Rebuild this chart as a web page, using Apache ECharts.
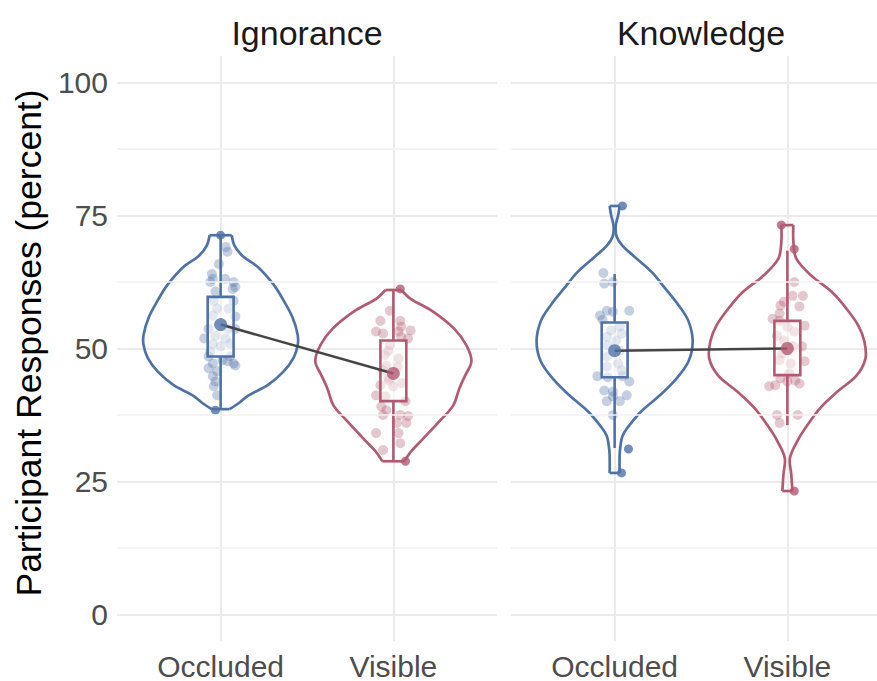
<!DOCTYPE html>
<html>
<head>
<meta charset="utf-8">
<script src="https://cdn.jsdelivr.net/npm/echarts@6/dist/echarts.min.js"></script>
<style>
  html, body { margin: 0; padding: 0; background: #fff; }
  #chart { width: 877px; height: 681px; }
</style>
</head>
<body>
<div id="chart"></div>
<script>
const facets = ['Ignorance', 'Knowledge'];
const conditions = ['Occluded', 'Visible'];
const yTicks = [0, 25, 50, 75, 100];
const yMinorTicks = [12.5, 37.5, 62.5, 87.5];

// condition means, [Occluded, Visible]
const ignoranceMeans = [54.5, 45.3];
const knowledgeMeans = [49.6, 50.0];

// boxes: [lower whisker, q1, q3, upper whisker]
const ignOccBox = [38.6, 48.5, 59.7, 71.2];
const ignVisBox = [28.8, 40.1, 51.5, 61.2];
const knoOccBox = [31.3, 44.6, 54.9, 64.0];
const knoVisBox = [35.6, 45.0, 55.2, 68.4];

// violin outlines: level and half width (x units)
const ignOccLevels = [71.3, 69.3, 67.4, 65.2, 62.0, 59.0, 55.8, 52.6, 50.6, 48.3, 45.7, 43.1, 41.2, 39.7, 38.6];
const ignOccHalfWidths = [0.064, 0.081, 0.127, 0.22, 0.307, 0.365, 0.417, 0.446, 0.446, 0.423, 0.365, 0.272, 0.162, 0.104, 0.052];
const ignVisLevels = [61.0, 59.4, 56.9, 53.7, 50.6, 47.6, 45.0, 42.5, 39.3, 36.3, 33.1, 30.7, 28.8];
const ignVisHalfWidths = [0.046, 0.098, 0.232, 0.353, 0.423, 0.452, 0.417, 0.382, 0.347, 0.266, 0.174, 0.104, 0.064];
const knoOccLevels = [76.8, 75.0, 73.0, 71.0, 69.3, 67.4, 64.4, 61.2, 58.1, 55.1, 51.3, 47.6, 44.4, 41.2, 38.2, 35.0, 33.5, 32.0, 30.0, 26.6];
const knoOccHalfWidths = [0.029, 0.02, 0.006, 0.012, 0.046, 0.11, 0.214, 0.295, 0.371, 0.428, 0.452, 0.428, 0.359, 0.262, 0.155, 0.072, 0.045, 0.035, 0.029, 0.029];
const knoVisLevels = [73.2, 70.0, 66.9, 63.7, 60.7, 57.5, 54.3, 51.3, 48.1, 44.9, 41.9, 38.8, 35.6, 32.6, 29.4, 26.2, 23.2];
const knoVisHalfWidths = [0.035, 0.035, 0.052, 0.139, 0.255, 0.342, 0.411, 0.446, 0.452, 0.40, 0.29, 0.19, 0.116, 0.058, 0.015, 0.023, 0.029];

// participant responses (jittered points)
const ignOccValues = [69.1, 68.2, 65.9, 64.0, 63.1, 62.5, 63.1, 62.5, 61.6, 61.2, 60.7, 59.0, 59.0, 57.5, 57.5, 56.2, 56.0, 53.7, 53.7, 53.7, 51.9, 52.4, 51.9, 50.9, 50.4, 50.9, 49.4, 48.5, 47.8, 47.2, 48.5, 47.6, 47.2, 46.8, 46.3, 45.7, 44.8, 43.8, 42.9, 41.2];
const ignOccJitter = [0.03, 0.04, -0.01, -0.05, -0.045, -0.06, 0.025, 0.075, 0.085, 0.07, -0.03, -0.04, 0.075, -0.02, 0.045, -0.045, 0.085, -0.07, 0.045, 0.085, -0.095, -0.03, 0.03, -0.045, 0.0, 0.055, -0.06, -0.07, 0.01, -0.045, 0.055, 0.04, 0.075, 0.085, -0.07, -0.02, -0.045, -0.03, -0.04, -0.02];
const ignVisValues = [57.1, 55.2, 55.2, 54.1, 53.2, 52.8, 53.2, 53.4, 51.9, 52.2, 49.6, 48.1, 46.8, 45.9, 43.1, 42.9, 44.4, 41.2, 41.0, 40.1, 39.1, 38.4, 37.5, 37.5, 37.3, 36.0, 36.0, 34.1, 34.1, 32.2, 30.9, 50.6, 46.5, 48.8, 43.5, 44.0];
const ignVisJitter = [-0.02, -0.075, 0.04, 0.045, -0.1, -0.06, 0.03, 0.1, 0.085, 0.045, -0.03, 0.03, -0.04, -0.06, -0.075, 0.0, -0.03, -0.1, -0.045, 0.07, -0.07, -0.04, -0.06, 0.04, 0.085, 0.02, 0.075, -0.1, 0.03, 0.04, -0.06, -0.02, 0.025, -0.05, 0.05, -0.025];
const knoOccValues = [64.2, 62.5, 62.2, 56.9, 57.1, 56.2, 55.4, 57.1, 54.1, 53.4, 52.8, 52.2, 51.5, 50.6, 49.6, 48.5, 47.2, 46.6, 45.9, 44.8, 44.6, 44.8, 43.8, 42.1, 41.9, 41.2, 40.1, 40.1, 41.0, 37.5];
const knoOccJitter = [-0.065, -0.01, -0.06, -0.01, -0.045, -0.085, -0.07, 0.085, 0.03, -0.02, 0.04, -0.045, 0.01, -0.04, 0.03, -0.045, 0.02, -0.045, 0.04, -0.1, -0.04, 0.045, 0.085, -0.06, -0.01, 0.07, -0.045, 0.03, -0.01, -0.01];
const knoVisValues = [62.5, 59.9, 59.9, 58.8, 58.1, 57.9, 56.6, 55.6, 55.2, 54.1, 53.2, 54.3, 52.4, 51.5, 50.4, 50.4, 49.1, 47.8, 47.2, 47.6, 45.3, 44.0, 44.4, 42.9, 43.1, 43.8, 43.4, 37.5, 37.5, 36.0];
const knoVisJitter = [0.04, 0.03, 0.09, -0.02, -0.04, 0.07, -0.045, -0.085, -0.045, 0.0, 0.04, 0.1, -0.06, -0.02, 0.03, 0.085, -0.03, -0.045, 0.02, 0.1, 0.01, 0.045, -0.04, -0.105, -0.07, 0.0, 0.07, -0.06, 0.06, -0.045];

// extreme responses drawn in full colour
const ignOccExtremes = [71.3, 38.4];
const ignOccExtremeJitter = [0.0, -0.03];
const ignVisExtremes = [61.2, 28.8];
const ignVisExtremeJitter = [0.04, 0.07];
const knoOccExtremes = [76.8, 31.1, 26.6];
const knoOccExtremeJitter = [0.045, 0.08, 0.04];
const knoVisExtremes = [73.2, 68.7, 23.2];
const knoVisExtremeJitter = [-0.035, 0.04, 0.04];

const BLUE = '#4f72a6';
const RED = '#b25a72';
const FONT = '"Liberation Sans", Arial, Helvetica, sans-serif';

const groups = [
  { facet: 0, cat: 1, color: BLUE, levels: ignOccLevels, hw: ignOccHalfWidths, box: ignOccBox, vals: ignOccValues, jit: ignOccJitter, ext: ignOccExtremes, extJit: ignOccExtremeJitter },
  { facet: 0, cat: 2, color: RED, levels: ignVisLevels, hw: ignVisHalfWidths, box: ignVisBox, vals: ignVisValues, jit: ignVisJitter, ext: ignVisExtremes, extJit: ignVisExtremeJitter },
  { facet: 1, cat: 1, color: BLUE, levels: knoOccLevels, hw: knoOccHalfWidths, box: knoOccBox, vals: knoOccValues, jit: knoOccJitter, ext: knoOccExtremes, extJit: knoOccExtremeJitter },
  { facet: 1, cat: 2, color: RED, levels: knoVisLevels, hw: knoVisHalfWidths, box: knoVisBox, vals: knoVisValues, jit: knoVisJitter, ext: knoVisExtremes, extJit: knoVisExtremeJitter }
];
const facetMeans = [ignoranceMeans, knowledgeMeans];

function withAlpha(hex, a) {
  const n = parseInt(hex.slice(1), 16);
  return 'rgba(' + (n >> 16) + ',' + ((n >> 8) & 255) + ',' + (n & 255) + ',' + a + ')';
}

// the right panel is cut by the picture's edge: it keeps the same scale, with a shorter x range
const PANEL_W = 380;
const grids = [
  { left: 117, top: 56, width: PANEL_W, height: 588 },
  { left: 511, top: 56, right: 0, height: 588 }
];
const rightVisible = (877 - 511) / PANEL_W;
const xMax = [2.6, 0.4 + 2.2 * rightVisible];

const xAxes = facets.map((f, i) => ({
  gridIndex: i, type: 'value', min: 0.4, max: xMax[i],
  axisLine: { show: false },
  axisTick: { show: false, customValues: [1, 2] },
  axisLabel: {
    customValues: [1, 2],
    formatter: v => conditions[Math.round(v) - 1],
    fontSize: 30, color: '#4d4d4d', fontFamily: FONT, margin: 10
  },
  splitLine: { show: true, lineStyle: { color: '#ebebeb', width: 2 } }
}));

const yAxes = facets.map((f, i) => ({
  gridIndex: i, type: 'value', min: -5, max: 105,
  axisLine: { show: false },
  axisTick: { show: false, customValues: yTicks },
  axisLabel: {
    show: i === 0, customValues: yTicks,
    fontSize: 30, color: '#4d4d4d', fontFamily: FONT, margin: 9
  },
  splitLine: { show: true, lineStyle: { color: '#ebebeb', width: 2 } }
}));

const series = [];

// minor grid lines
facets.forEach((f, i) => {
  series.push({
    type: 'line', xAxisIndex: i, yAxisIndex: i, data: [], z: 0, silent: true,
    markLine: {
      silent: true, symbol: 'none', label: { show: false },
      lineStyle: { color: '#f1f1f1', width: 1.5, type: 'solid' },
      data: yMinorTicks.map(v => ({ yAxis: v }))
    }
  });
});

groups.forEach(g => {
  const ax = { xAxisIndex: g.facet, yAxisIndex: g.facet };

  // violin
  series.push(Object.assign({
    type: 'custom', z: 1, silent: true, clip: false,
    data: [[g.cat]],
    renderItem: (params, api) => {
      const left = g.levels.map((v, k) => api.coord([g.cat - g.hw[k], v]));
      const right = g.levels.map((v, k) => api.coord([g.cat + g.hw[k], v]));
      const n = left.length - 1;
      const style = { stroke: g.color, lineWidth: 2.7, fill: null };
      return {
        type: 'group',
        children: [
          { type: 'polyline', shape: { points: left, smooth: 0.35 }, style },
          { type: 'polyline', shape: { points: right, smooth: 0.35 }, style },
          { type: 'line', shape: { x1: left[0][0], y1: left[0][1], x2: right[0][0], y2: right[0][1] }, style },
          { type: 'line', shape: { x1: left[n][0], y1: left[n][1], x2: right[n][0], y2: right[n][1] }, style }
        ]
      };
    }
  }, ax));

  // jittered responses
  series.push(Object.assign({
    type: 'scatter', z: 2, silent: true, symbolSize: 10,
    itemStyle: { color: withAlpha(g.color, 0.42) },
    data: g.vals.map((v, k) => [g.cat + g.jit[k], v])
  }, ax));

  // box and whiskers
  series.push(Object.assign({
    type: 'custom', z: 3, silent: true,
    data: [[g.cat]],
    renderItem: (params, api) => {
      const b = g.box;
      const hb = 0.075;
      const tl = api.coord([g.cat - hb, b[2]]);
      const br = api.coord([g.cat + hb, b[1]]);
      const lo = api.coord([g.cat, b[0]]);
      const q1 = api.coord([g.cat, b[1]]);
      const q3 = api.coord([g.cat, b[2]]);
      const hi = api.coord([g.cat, b[3]]);
      const stroke = { stroke: g.color, lineWidth: 2.6 };
      return {
        type: 'group',
        children: [
          { type: 'line', shape: { x1: hi[0], y1: hi[1], x2: q3[0], y2: q3[1] }, style: stroke },
          { type: 'line', shape: { x1: q1[0], y1: q1[1], x2: lo[0], y2: lo[1] }, style: stroke },
          { type: 'rect', shape: { x: tl[0], y: tl[1], width: br[0] - tl[0], height: br[1] - tl[1] },
            style: Object.assign({ fill: 'rgba(255,255,255,0.5)' }, stroke) }
        ]
      };
    }
  }, ax));

  // extreme responses
  series.push(Object.assign({
    type: 'scatter', z: 4, silent: true, symbolSize: 9,
    itemStyle: { color: g.color },
    data: g.ext.map((v, k) => [g.cat + g.extJit[k], v])
  }, ax));
});

// mean lines and mean points
facets.forEach((f, i) => {
  series.push({
    type: 'line', xAxisIndex: i, yAxisIndex: i, z: 5, silent: true,
    symbol: 'none', lineStyle: { color: '#454545', width: 2.5 },
    data: facetMeans[i].map((m, k) => [k + 1, m])
  });
  series.push({
    type: 'scatter', xAxisIndex: i, yAxisIndex: i, z: 6, silent: true, symbolSize: 13,
    data: facetMeans[i].map((m, k) => ({ value: [k + 1, m], itemStyle: { color: k === 0 ? BLUE : RED } }))
  });
});

const chart = echarts.init(document.getElementById('chart'), null, { renderer: 'svg' });
chart.setOption({
  animation: false,
  backgroundColor: '#ffffff',
  grid: grids,
  xAxis: xAxes,
  yAxis: yAxes,
  graphic: [
    { type: 'text', x: 307, y: 33, style: { text: facets[0], align: 'center', verticalAlign: 'middle', fontSize: 34, fill: '#1a1a1a', fontFamily: FONT } },
    { type: 'text', x: 701, y: 33, style: { text: facets[1], align: 'center', verticalAlign: 'middle', fontSize: 34, fill: '#1a1a1a', fontFamily: FONT } },
    { type: 'text', x: 29, y: 343, rotation: Math.PI / 2, style: { text: 'Participant Responses (percent)', align: 'center', verticalAlign: 'middle', fontSize: 35.5, fill: '#000000', fontFamily: FONT } }
  ],
  series: series
});
</script>
</body>
</html>
